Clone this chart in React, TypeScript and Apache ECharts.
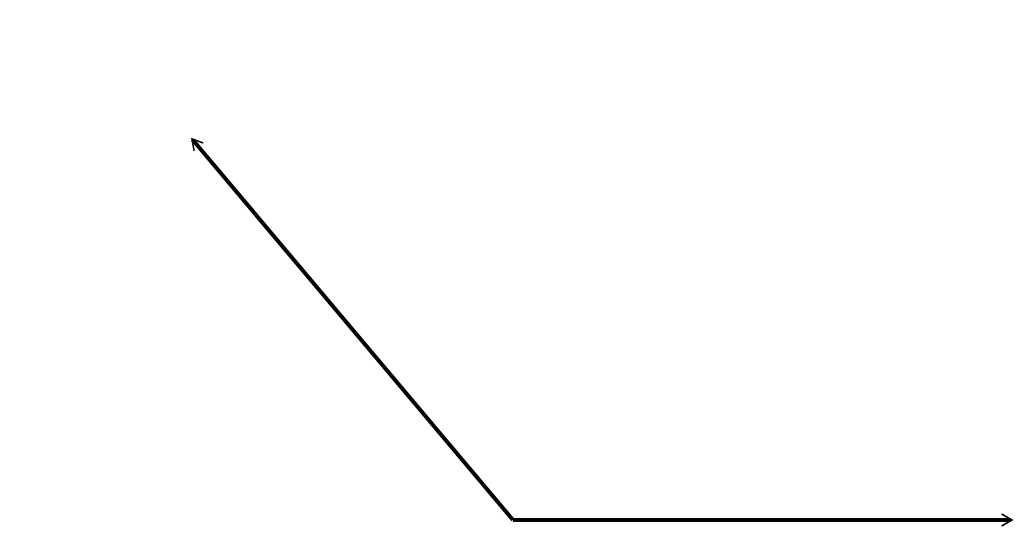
import { useEffect, useRef } from "react";
import * as echarts from "echarts";

// two vectors from a common origin (pixel-like units)
const vectorNames = ["u", "v"];
const originX = [0, 0];
const originY = [0, 0];
const tipX = [-321, 499];
const tipY = [381, 0];

const xRange = [-513, 511];
const yRange = [-13, 520];

export default function App() {
  const ref = useRef<HTMLDivElement | null>(null);

  useEffect(() => {
    if (!ref.current) {
      return;
    }

    const chart = echarts.init(ref.current, undefined, { renderer: "svg" });

    const data = vectorNames.map((name, i) => ({
      name,
      value: [originX[i], originY[i], tipX[i], tipY[i]]
    }));

    chart.setOption({
      animation: false,
      backgroundColor: "#ffffff",
      grid: { left: 0, right: 0, top: 0, bottom: 0 },
      xAxis: { type: "value", min: xRange[0], max: xRange[1], show: false },
      yAxis: { type: "value", min: yRange[0], max: yRange[1], show: false },
      series: [
        {
          type: "custom",
          coordinateSystem: "cartesian2d",
          encode: { x: [0, 2], y: [1, 3] },
          data,
          renderItem: (_params: any, api: any) => {
            const p0 = api.coord([api.value(0), api.value(1)]);
            const p1 = api.coord([api.value(2), api.value(3)]);
            const ang = Math.atan2(p1[1] - p0[1], p1[0] - p0[0]);
            const len = 12;
            const spread = Math.PI / 6;
            const a1 = [
              p1[0] - len * Math.cos(ang - spread),
              p1[1] - len * Math.sin(ang - spread)
            ];
            const a2 = [
              p1[0] - len * Math.cos(ang + spread),
              p1[1] - len * Math.sin(ang + spread)
            ];
            return {
              type: "group",
              children: [
                {
                  type: "line",
                  shape: { x1: p0[0], y1: p0[1], x2: p1[0] - Math.cos(ang), y2: p1[1] - Math.sin(ang) },
                  style: { stroke: "#000000", lineWidth: 4, lineCap: "butt" }
                },
                {
                  type: "polyline",
                  shape: { points: [a1, p1, a2] },
                  style: { stroke: "#000000", lineWidth: 1.6, fill: null, lineJoin: "miter" }
                }
              ]
            };
          }
        }
      ]
    });

    return () => {
      chart.dispose();
    };
  }, []);

  return (
    <div
      ref={ref}
      style={{ position: "fixed", left: 0, top: 0, width: 1024, height: 533 }}
    />
  );
}
